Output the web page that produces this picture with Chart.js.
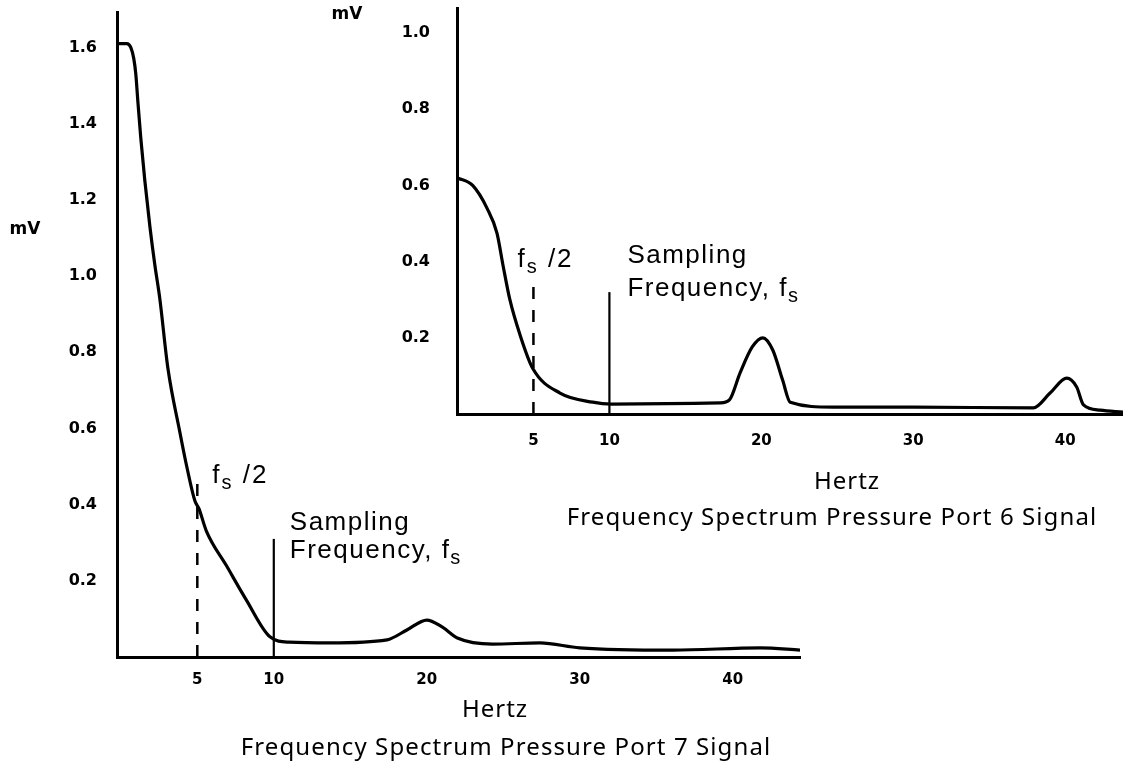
<!DOCTYPE html>
<html>
<head>
<meta charset="utf-8">
<script src="https://cdn.jsdelivr.net/npm/chart.js@4.4.0/dist/chart.umd.min.js"></script>
<style>
    html, body { margin: 0; padding: 0; background: #fff; }
    body { width: 1123px; height: 769px; position: relative; overflow: hidden; }
    #wrap7 { position: absolute; left: 0; top: 0; width: 820px; height: 769px; }
    #wrap6 { position: absolute; left: 320px; top: 0; width: 803px; height: 560px; }
</style>
</head>
<body>
<div id="wrap7"><canvas id="graficoPort7"></canvas></div>
<div id="wrap6"><canvas id="graficoPort6"></canvas></div>
<script>
// Port 7 spectrum (Hz, mV)
const port7Hz = [-0.25, 0.39, 0.65, 0.85, 0.98, 1.11, 1.31, 1.57, 1.9, 2.22, 2.55, 3.07, 3.86, 4.31, 4.84, 5.1, 5.6, 6.9, 8.2, 9.75, 11.0, 13.7, 17.4, 18.7, 20.0, 21.0, 22.0, 24.3, 27.4, 30.0, 36.1, 41.8, 44.4];
const port7mV = [1.61, 1.61, 1.60, 1.57, 1.53, 1.46, 1.36, 1.25, 1.13, 1.03, 0.94, 0.76, 0.59, 0.50, 0.41, 0.39, 0.33, 0.24, 0.15, 0.053, 0.039, 0.037, 0.045, 0.071, 0.097, 0.079, 0.05, 0.034, 0.037, 0.024, 0.018, 0.024, 0.018];

// Port 6 spectrum (Hz, mV)
const port6Hz = [0, 1.0, 1.95, 2.6, 3.0, 3.45, 4.1, 4.95, 6.75, 8.9, 10.15, 17.3, 17.9, 18.6, 19.4, 20.1, 20.75, 21.4, 21.9, 24.7, 30.0, 37.9, 39.0, 40.1, 40.75, 41.2, 42.3, 43.8];
const port6mV = [0.62, 0.60, 0.54, 0.475, 0.39, 0.30, 0.21, 0.12, 0.055, 0.031, 0.026, 0.029, 0.037, 0.108, 0.176, 0.20, 0.168, 0.089, 0.031, 0.018, 0.018, 0.016, 0.055, 0.094, 0.071, 0.024, 0.010, 0.005];

// marker lines: fs/2 and fs
const marcaHz = [5, 10];
const marca7Alto = [0.47, 0.31];
const marca6Alto = [0.35, 0.32];

const ticksX = [5, 10, 20, 30, 40];
const ticksY7 = [0.2, 0.4, 0.6, 0.8, 1.0, 1.2, 1.4, 1.6];
const ticksY6 = [0.2, 0.4, 0.6, 0.8, 1.0];

const fuenteNota = "26px 'Liberation Sans'";
const fuenteSub = "20px 'Liberation Sans'";

function puntos(xs, ys) {
    return xs.map((x, i) => ({ x: x, y: ys[i] }));
}

function textoFs(ctx, x, y, sufijo) {
    // "f" with subscript "s" then the rest
    ctx.font = fuenteNota;
    ctx.fillText("f", x, y);
    let w = ctx.measureText("f").width;
    ctx.font = fuenteSub;
    ctx.fillText("s", x + w, y + 6);
    w += ctx.measureText("s").width;
    ctx.font = fuenteNota;
    ctx.fillText(sufijo, x + w, y);
}

function crearGrafico(id, cfg) {
    const ctx = document.getElementById(id);
    return new Chart(ctx, {
        type: 'line',
        data: {
            datasets: [
                {
                    data: puntos(cfg.hz, cfg.mv),
                    borderColor: '#000',
                    borderWidth: 3.2,
                    pointRadius: 0,
                    cubicInterpolationMode: 'monotone'
                },
                {
                    data: [{ x: marcaHz[0], y: 0 }, { x: marcaHz[0], y: cfg.alto[0] }],
                    borderColor: '#000',
                    borderWidth: 2.5,
                    borderDash: [12, 11],
                    pointRadius: 0
                },
                {
                    data: [{ x: marcaHz[1], y: 0 }, { x: marcaHz[1], y: cfg.alto[1] }],
                    borderColor: '#000',
                    borderWidth: 2.2,
                    pointRadius: 0
                }
            ]
        },
        options: {
            responsive: true,
            maintainAspectRatio: false,
            animation: false,
            layout: { padding: cfg.padding },
            plugins: { legend: { display: false }, tooltip: { enabled: false } },
            scales: {
                x: {
                    type: 'linear',
                    min: cfg.xMin,
                    max: cfg.xMax,
                    grid: { display: false },
                    border: { display: true, color: '#000', width: 3 },
                    afterBuildTicks: s => { s.ticks = ticksX.map(v => ({ value: v })); },
                    afterFit: s => {
                        s.height = cfg.altoX;
                        s.paddingLeft = 0; s.paddingRight = 0;
                    },
                    ticks: {
                        color: '#000',
                        font: { family: 'DejaVu Sans', size: 15, weight: 'bold' },
                        padding: cfg.padX,
                        maxRotation: 0,
                        autoSkip: false
                    }
                },
                y: {
                    min: 0,
                    max: cfg.yMax,
                    grid: { display: false },
                    border: { display: true, color: '#000', width: 3 },
                    afterBuildTicks: s => { s.ticks = cfg.ticksY.map(v => ({ value: v })); },
                    afterFit: s => {
                        s.width = cfg.anchoY;
                        s.paddingTop = 0; s.paddingBottom = 0;
                    },
                    ticks: {
                        color: '#000',
                        font: { family: 'DejaVu Sans', size: 16, weight: 'bold' },
                        padding: cfg.padY,
                        callback: v => v.toFixed(1)
                    }
                }
            }
        },
        plugins: [{
            id: 'textos',
            afterDraw(chart) {
                const c = chart.ctx;
                const sx = chart.scales.x;
                const sy = chart.scales.y;
                c.save();
                c.fillStyle = '#000';
                c.textBaseline = 'alphabetic';
                c.textAlign = 'left';
                // fs/2 label
                c.letterSpacing = '2px';
                textoFs(c, sx.getPixelForValue(marcaHz[0]) + cfg.fs2.dx, sy.getPixelForValue(cfg.fs2.y), " /2");
                // Sampling Frequency, fs
                const xs = sx.getPixelForValue(marcaHz[1]) + cfg.samp.dx;
                const ys = sy.getPixelForValue(cfg.samp.y);
                c.font = fuenteNota;
                c.letterSpacing = '1.5px';
                c.fillText("Sampling", xs, ys);
                c.fillText("Frequency, ", xs, ys + cfg.samp.gap);
                const w = c.measureText("Frequency, ").width;
                textoFs(c, xs + w, ys + cfg.samp.gap, "");
                // mV label
                c.letterSpacing = '0px';
                c.font = "bold 17px 'DejaVu Sans'";
                c.textAlign = 'center';
                c.textBaseline = 'middle';
                c.fillText("mV", cfg.mV[0], cfg.mV[1]);
                // Hertz and title
                c.font = "24px 'Noto Sans'";
                c.letterSpacing = '1px';
                c.fillText("Hertz", cfg.hertz[0], cfg.hertz[1]);
                c.font = "24px 'Noto Sans'";
                c.letterSpacing = '1.1px';
                c.fillText(cfg.titulo, cfg.tit[0], cfg.tit[1]);
                c.restore();
            }
        }]
    });
}

crearGrafico("graficoPort7", {
    hz: port7Hz, mv: port7mV, alto: marca7Alto, ticksY: ticksY7,
    xMin: -0.25, xMax: 44.4, yMax: 1.693,
    padding: { left: 0, top: 12, right: 20, bottom: 0 },
    anchoY: 117, altoX: 112, padX: 6, padY: 12,
    fs2: { dx: 15, y: 0.457 },
    samp: { dx: 16, y: 0.333, gap: 28 },
    mV: [25, 230], hertz: [495, 710],
    titulo: "Frequency Spectrum Pressure Port 7 Signal", tit: [506, 748]
});

crearGrafico("graficoPort6", {
    hz: port6Hz, mv: port6mV, alto: marca6Alto, ticksY: ticksY6,
    xMin: -0.03, xMax: 43.8, yMax: 1.066,
    padding: { left: 0, top: 8, right: 0, bottom: 0 },
    anchoY: 137, altoX: 146, padX: 10, padY: 19,
    fs2: { dx: -16, y: 0.386 },
    samp: { dx: 18, y: 0.396, gap: 33 },
    mV: [27, 15], hertz: [527, 482],
    titulo: "Frequency Spectrum Pressure Port 6 Signal", tit: [512, 518]
});
</script>
</body>
</html>
